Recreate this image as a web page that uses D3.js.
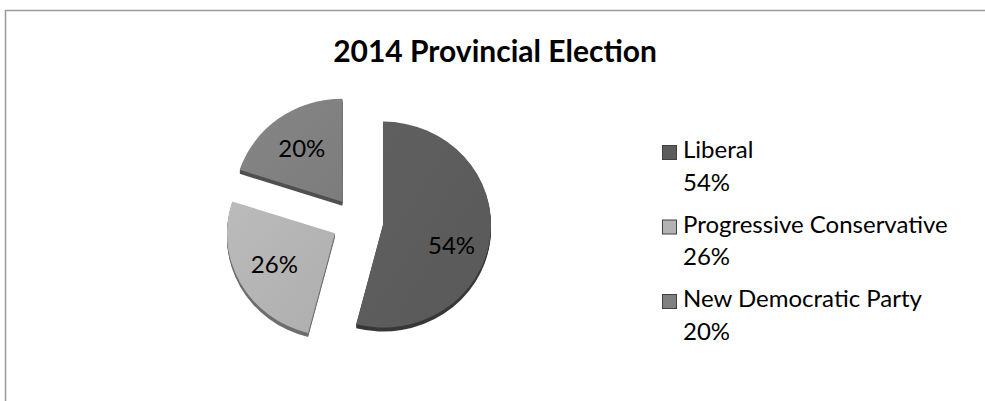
<!DOCTYPE html>
<html>
<head>
<meta charset="utf-8">
<script src="https://cdn.jsdelivr.net/npm/d3@7/dist/d3.min.js"></script>
<style>
  body { margin: 0; background: #fff; }
  svg { display: block; font-family: Lato, "Noto Sans", sans-serif; }
</style>
</head>
<body>
<div id="chart"></div>
<script>
const parties = ["Liberal", "Progressive Conservative", "New Democratic Party"];
const shares = [54, 26, 20];
const fills = ["#5c5c5c", "#b3b3b3", "#808080"];
const rims = ["#383838", "#6e6e6e", "#505050"];

const width = 985, height = 401;
const cx = 357.5, cy = 221.5;
const rx = 108, ry = 103, depth = 4, explode = 25.7;
const ky = ry / rx;

const svg = d3.select("#chart").append("svg")
    .attr("width", width)
    .attr("height", height);

// frame of the chart area
svg.append("path")
    .attr("d", "M5.5,401 V10.5 H985")
    .attr("fill", "none")
    .attr("stroke", "#9a9a9a")
    .attr("stroke-width", 1.5);

svg.append("text")
    .attr("x", 495)
    .attr("y", 62)
    .attr("text-anchor", "middle")
    .attr("font-weight", "bold")
    .attr("font-size", 30)
    .text("2014 Provincial Election");

const defs = svg.append("defs");
fills.forEach((c, i) => {
    const g = defs.append("linearGradient")
        .attr("id", "grad" + i)
        .attr("x1", 0).attr("y1", 0).attr("x2", 1).attr("y2", 1);
    g.append("stop").attr("offset", 0).attr("stop-color", d3.color(c).brighter(0.12));
    g.append("stop").attr("offset", 1).attr("stop-color", d3.color(c).darker(0.08));
});

const pie = d3.pie().value(d => d).sort(null);
const arcs = pie(shares);
const arc = d3.arc().innerRadius(0).outerRadius(rx);

const midAngle = d => (d.startAngle + d.endAngle) / 2;
const offset = d => [cx + Math.sin(midAngle(d)) * explode, cy - Math.cos(midAngle(d)) * explode * ky];

const slices = svg.append("g").selectAll("g")
    .data(arcs)
    .enter()
    .append("g")
    .attr("transform", d => {
        const [x, y] = offset(d);
        return `translate(${x},${y})`;
    });

// side of the 3D slice
for (let k = depth; k > 0; k--) {
    slices.append("path")
        .attr("d", arc)
        .attr("transform", `translate(0,${k}) scale(1,${ky})`)
        .attr("fill", (d, i) => rims[i]);
}

// top face
slices.append("path")
    .attr("d", arc)
    .attr("transform", `scale(1,${ky})`)
    .attr("fill", (d, i) => `url(#grad${i})`);

// big slices (over half the pie) get their label pushed a bit lower, like the original
const labelR = rx * 0.64;
slices.append("text")
    .attr("x", d => Math.sin(midAngle(d)) * labelR)
    .attr("y", d => -Math.cos(midAngle(d)) * labelR * ky + (d.endAngle - d.startAngle > Math.PI ? 13 : 0))
    .attr("dy", "0.35em")
    .attr("text-anchor", "middle")
    .attr("font-size", 24)
    .attr("fill", "#000")
    .text(d => d.data + "%");

// legend
const legend = svg.append("g").selectAll("g")
    .data(parties)
    .enter()
    .append("g")
    .attr("transform", (d, i) => `translate(662,${145 + i * 74.5})`);

legend.append("rect")
    .attr("x", 0.5).attr("y", 0.5)
    .attr("width", 14).attr("height", 14)
    .attr("fill", (d, i) => fills[i])
    .attr("stroke", "#404040")
    .attr("stroke-width", 1);

legend.append("text")
    .attr("x", 21)
    .attr("y", 13)
    .attr("font-size", 24)
    .text(d => d);

legend.append("text")
    .attr("x", 21)
    .attr("y", 45.5)
    .attr("font-size", 24)
    .text((d, i) => shares[i] + "%");
</script>
</body>
</html>
